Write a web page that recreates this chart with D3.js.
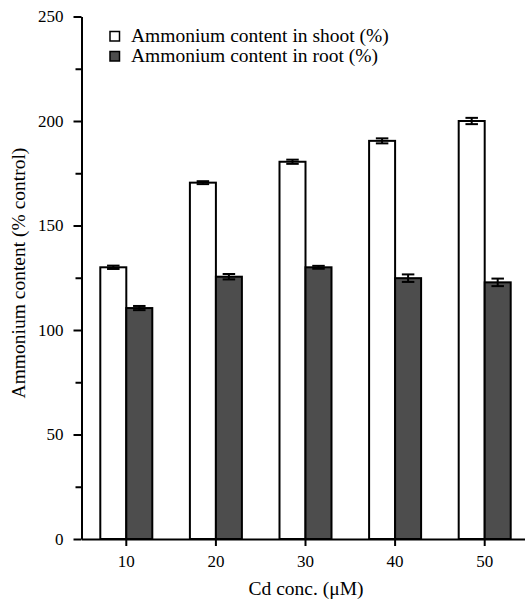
<!DOCTYPE html>
<html>
<head>
<meta charset="utf-8">
<script src="https://cdn.jsdelivr.net/npm/d3@7"></script>
<style>
  body { margin: 0; background: #fff; }
  text { font-family: "Liberation Serif", "Times New Roman", serif; }
</style>
</head>
<body>
<div id="chart"></div>
<script>
// data
const concs = ["10", "20", "30", "40", "50"];
const shoot = [130, 170.5, 180.5, 190.5, 200];
const shootErr = [0.8, 0.7, 1, 1.2, 1.5];
const root = [110.5, 125.5, 130, 124.8, 122.8];
const rootErr = [1, 1.3, 0.7, 1.8, 1.8];
const yTicks = [0, 50, 100, 150, 200, 250];
const yMinor = [25, 75, 125, 175, 225];
const seriesNames = ["Ammonium content in shoot (%)", "Ammonium content in root (%)"];

const width = 525, height = 601;
const margin = { top: 16.5, right: -4.5, bottom: 62, left: 81.5 };

const svg = d3.select("#chart").append("svg")
    .attr("width", width)
    .attr("height", height);

const x = d3.scaleBand()
    .domain(concs)
    .range([margin.left, width - margin.right])
    .padding(0);

const barW = 26;
const x1 = d3.scaleBand()
    .domain(["shoot", "root"])
    .range([x.bandwidth() / 2 - barW, x.bandwidth() / 2 + barW]);

const y = d3.scaleLinear()
    .domain([0, 250])
    .range([height - margin.bottom, margin.top]);

const fills = { shoot: "#ffffff", root: "#4d4d4d" };

const rows = concs.map((c, i) => ({
    c: c,
    bars: [
        { key: "shoot", v: shoot[i], e: shootErr[i] },
        { key: "root", v: root[i], e: rootErr[i] }
    ]
}));

// bars
const grp = svg.append("g").selectAll("g")
    .data(rows)
    .enter().append("g")
    .attr("transform", d => "translate(" + x(d.c) + ",0)");

grp.selectAll("rect")
    .data(d => d.bars)
    .enter().append("rect")
    .attr("x", d => x1(d.key))
    .attr("width", x1.bandwidth())
    .attr("y", d => y(d.v))
    .attr("height", d => y(0) - y(d.v))
    .attr("fill", d => fills[d.key])
    .attr("stroke", "#000")
    .attr("stroke-width", 2);

// error bars
const capW = 12.5;
const eb = grp.selectAll("g.err")
    .data(d => d.bars)
    .enter().append("g")
    .attr("class", "err")
    .attr("stroke", "#000")
    .attr("stroke-width", 2);

eb.append("line")
    .attr("x1", d => x1(d.key) + barW / 2)
    .attr("x2", d => x1(d.key) + barW / 2)
    .attr("y1", d => y(d.v + d.e))
    .attr("y2", d => y(d.v - d.e));
eb.append("line")
    .attr("x1", d => x1(d.key) + barW / 2 - capW / 2)
    .attr("x2", d => x1(d.key) + barW / 2 + capW / 2)
    .attr("y1", d => y(d.v + d.e))
    .attr("y2", d => y(d.v + d.e));
eb.append("line")
    .attr("x1", d => x1(d.key) + barW / 2 - capW / 2)
    .attr("x2", d => x1(d.key) + barW / 2 + capW / 2)
    .attr("y1", d => y(d.v - d.e))
    .attr("y2", d => y(d.v - d.e));

// y axis, minor ticks first then major with labels
svg.append("g")
    .attr("transform", "translate(" + margin.left + ",0)")
    .call(d3.axisLeft(y).tickValues(yMinor).tickSize(6).tickFormat(""))
    .call(g => g.select(".domain").remove())
    .call(g => g.selectAll("line").attr("stroke-width", 2));

svg.append("g")
    .attr("transform", "translate(" + margin.left + ",0)")
    .call(d3.axisLeft(y).tickValues(yTicks).tickSize(8).tickSizeOuter(0).tickPadding(10))
    .call(g => g.select(".domain").attr("stroke-width", 2))
    .call(g => g.selectAll("line").attr("stroke-width", 2))
    .call(g => g.selectAll("text")
        .style("font-family", "Liberation Serif")
        .style("font-size", "17px")
        .attr("fill", "#000"));

// x axis
svg.append("g")
    .attr("transform", "translate(0," + y(0) + ")")
    .call(d3.axisBottom(x).tickSize(7).tickSizeOuter(0).tickPadding(9))
    .call(g => g.select(".domain").attr("stroke-width", 2))
    .call(g => g.selectAll("line").attr("stroke-width", 2))
    .call(g => g.selectAll("text")
        .style("font-family", "Liberation Serif")
        .style("font-size", "17px")
        .attr("fill", "#000"));

// axis titles
svg.append("text")
    .attr("x", 306)
    .attr("y", 595)
    .attr("text-anchor", "middle")
    .style("font-size", "19.5px")
    .text("Cd conc. (\u03bcM)");

svg.append("text")
    .attr("transform", "translate(25,273) rotate(-90)")
    .attr("text-anchor", "middle")
    .style("font-size", "19.5px")
    .text("Ammonium content (% control)");

// legend
const legend = svg.append("g")
    .attr("transform", "translate(110,31.5)");
const li = legend.selectAll("g")
    .data(["shoot", "root"])
    .enter().append("g")
    .attr("transform", (d, i) => "translate(0," + i * 20 + ")");
li.append("rect")
    .attr("width", 9.5)
    .attr("height", 9.5)
    .attr("fill", d => fills[d])
    .attr("stroke", "#000")
    .attr("stroke-width", 1.5);
li.append("text")
    .attr("x", 21)
    .attr("y", 10.5)
    .style("font-size", "19.5px")
    .text((d, i) => seriesNames[i]);
</script>
</body>
</html>
